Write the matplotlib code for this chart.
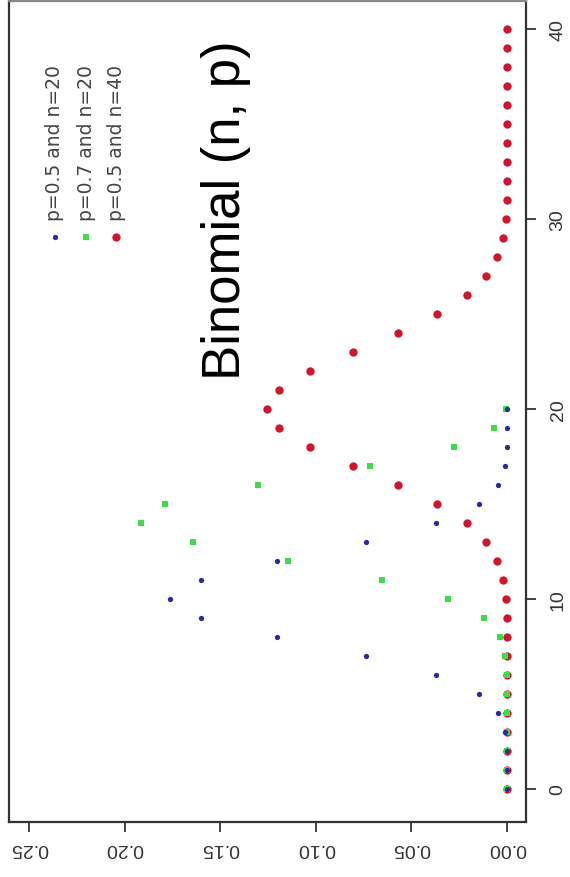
import numpy as np
import matplotlib
matplotlib.use("Agg")
import matplotlib.pyplot as plt

# ---------- Data ----------
k20 = list(range(0, 21))
k40 = list(range(0, 41))

# p=0.5 and n=20
p05_n20 = [0.0000, 0.0000, 0.0002, 0.0011, 0.0046, 0.0148, 0.0370, 0.0739,
           0.1201, 0.1602, 0.1762, 0.1602, 0.1201, 0.0739, 0.0370, 0.0148,
           0.0046, 0.0011, 0.0002, 0.0000, 0.0000]

# p=0.7 and n=20
p07_n20 = [0.0000, 0.0000, 0.0000, 0.0000, 0.0000, 0.0000, 0.0002, 0.0010,
           0.0039, 0.0120, 0.0308, 0.0654, 0.1144, 0.1643, 0.1916, 0.1789,
           0.1304, 0.0716, 0.0278, 0.0068, 0.0008]

# p=0.5 and n=40
p05_n40 = [0.0000, 0.0000, 0.0000, 0.0000, 0.0000, 0.0000, 0.0000, 0.0000,
           0.0001, 0.0002, 0.0008, 0.0021, 0.0051, 0.0109, 0.0211, 0.0366,
           0.0572, 0.0807, 0.1031, 0.1194, 0.1254, 0.1194, 0.1031, 0.0807,
           0.0572, 0.0366, 0.0211, 0.0109, 0.0051, 0.0021, 0.0008, 0.0002,
           0.0001, 0.0000, 0.0000, 0.0000, 0.0000, 0.0000, 0.0000, 0.0000,
           0.0000]

legend_labels = ["p=0.5 and n=20", "p=0.7 and n=20", "p=0.5 and n=40"]
x_ticks = [0, 10, 20, 30, 40]
y_ticks = [0.00, 0.05, 0.10, 0.15, 0.20, 0.25]
y_ticklabels = ["0.00", "0.05", "0.10", "0.15", "0.20", "0.25"]

# ---------- Styles ----------
c_blue = "#2a2a9e"
c_green = "#3ddc48"
c_red = "#d0162e"
tick_font = ["Liberation Sans", "DejaVu Sans"]

# ---------- Figure (plot is drawn turned a quarter turn) ----------
fig = plt.figure(figsize=(5.70, 8.78), dpi=100)
ax = fig.add_axes([0.0158, 0.0626, 0.907, 0.935])

ax.plot(p05_n40, k40, "o", color=c_red, markersize=6, markeredgewidth=0, zorder=3)
ax.plot(p07_n20, k20, "s", color=c_green, markersize=5, markeredgewidth=0, zorder=4)
ax.plot(p05_n20, k20, "o", color=c_blue, markersize=3.8, markeredgewidth=0, zorder=5)

ax.set_xlim(0.2605, -0.0099)
ax.set_ylim(-1.74, 41.47)

ax.yaxis.tick_right()
ax.set_yticks(x_ticks)
ax.set_yticklabels([str(v) for v in x_ticks], rotation=90, va="center",
                   family=tick_font, fontsize=14, color="#333333")
ax.set_xticks(y_ticks)
ax.set_xticklabels(y_ticklabels, rotation=180, family=tick_font,
                   fontsize=14, color="#333333")
ax.tick_params(axis="y", direction="out", length=7, width=1.3, pad=10,
               colors="#333333")
ax.tick_params(axis="x", direction="out", length=7, width=1.3, pad=5,
               colors="#333333")

for s in ax.spines.values():
    s.set_linewidth(1.6)
    s.set_color("#333333")
ax.spines["top"].set_color("#888888")

# ---------- Legend (turned like the rest) ----------
leg_x = [55, 86, 116]
leg_colors = [c_blue, c_green, c_red]
leg_markers = ["o", "s", "o"]
leg_sizes = [3.8, 5, 6]
for lx, lab, col, mk, ms in zip(leg_x, legend_labels, leg_colors, leg_markers, leg_sizes):
    fx = lx / 570
    fig.lines.append(plt.Line2D([fx], [1 - 238 / 878], marker=mk, color=col,
                                markersize=ms, markeredgewidth=0,
                                transform=fig.transFigure))
    fig.text(fx, 1 - 221 / 878, lab, rotation=90, ha="center", va="bottom",
             fontsize=13.5, color="#444444", family="DejaVu Sans")

# ---------- Title ----------
fig.text(226 / 570, 1 - 210 / 878, "Binomial (n, p)", rotation=90,
         ha="center", va="center", fontsize=38, color="black",
         family=["Liberation Sans", "DejaVu Sans"])

fig.savefig("out.png", dpi=100)
